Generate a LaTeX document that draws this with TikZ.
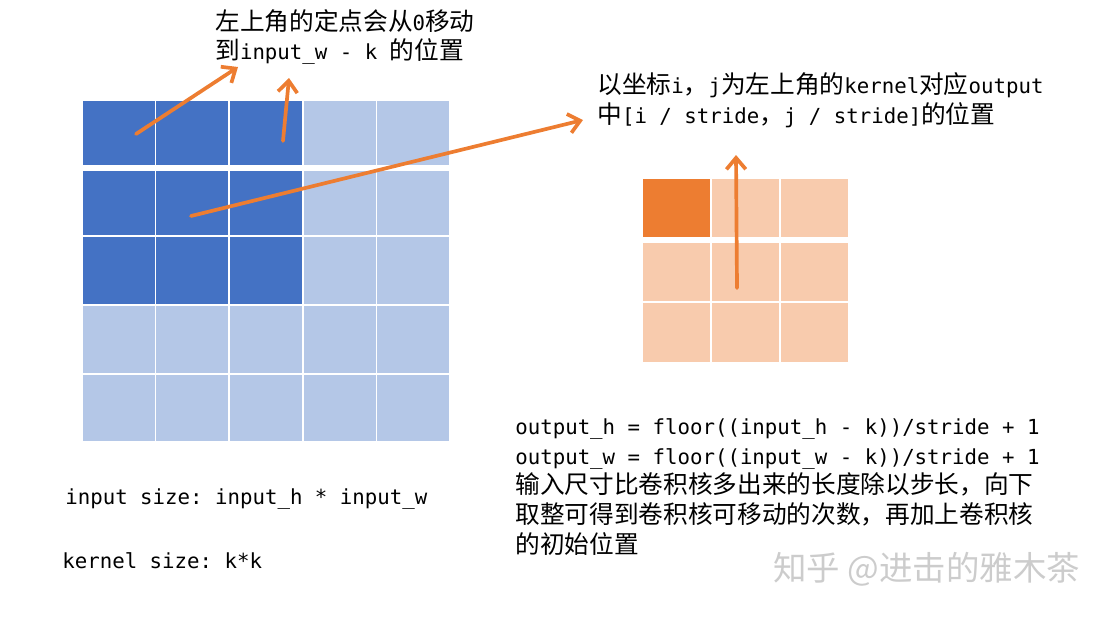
\documentclass[tikz,border=0pt]{standalone}
\usepackage{fontspec}
\setmainfont{DejaVu Sans Mono}
\newfontfamily\cjk[Scale=1.19]{Noto Sans CJK SC}
\usepackage{xcolor}
\definecolor{Kblue}{HTML}{4472C4}
\definecolor{Kbluelight}{HTML}{B4C7E7}
\definecolor{Korange}{HTML}{ED7D31}
\definecolor{Korangelight}{HTML}{F8CBAD}
\usetikzlibrary{arrows.meta}
\tikzset{
    cell/.style = {draw=white, line width=0.9pt},
    note/.style = {inner sep=0pt, anchor=west, align=left, font=\fontsize{11.8}{17}\selectfont\frenchspacing},
    arrow/.style = {Korange, line width=2.1pt, line cap=round,
        -{Straight Barb[length=6.5pt, width=11pt, line width=2.1pt]}}
}

\begin{document}
\begin{tikzpicture}[x=0.02cm, y=-0.02cm]
    \useasboundingbox (0,0) rectangle (1104,616);
    % Input feature map
    \foreach \top/\bot [count=\r] in {100/166, 170/236, 236/305, 305/374, 374/442} {
        \foreach \c in {1,...,5} {
            \pgfmathsetmacro{\xl}{82+(\c-1)*73.6}
            \pgfmathsetmacro{\xr}{82+\c*73.6}
            \ifnum\r<4 \ifnum\c<4
                \def\cellcolor{Kblue}
            \else
                \def\cellcolor{Kbluelight}
            \fi \else
                \def\cellcolor{Kbluelight}
            \fi
            \filldraw[cell, fill=\cellcolor] (\xl,\top) rectangle (\xr,\bot);
        }
    }
    % Output feature map
    \foreach \top/\bot [count=\r] in {178/238, 242/302, 302/363} {
        \foreach \c in {1,2,3} {
            \pgfmathsetmacro{\xl}{642+(\c-1)*69}
            \pgfmathsetmacro{\xr}{642+\c*69}
            \filldraw[cell, fill=Korangelight] (\xl,\top) rectangle (\xr,\bot);
        }
    }
    \filldraw[cell, fill=Korange] (642,178) rectangle (711,238);
    % Notes
    \node[note] (corner) at (215,37) {{\cjk 左上角的定点会从}0{\cjk 移动}\\{\cjk 到}input\_w - k {\cjk 的位置}};
    \node[note] (position) at (597,100) {{\cjk 以坐标}i{\cjk ，}j{\cjk 为左上角的}kernel{\cjk 对应}output\\{\cjk 中}[i / stride{\cjk ，}j / stride]{\cjk 的位置}};
    \node[note] (formula) at (515,487) {output\_h = floor((input\_h - k))/stride + 1\\output\_w = floor((input\_w - k))/stride + 1\\{\cjk 输入尺寸比卷积核多出来的长度除以步长，向下}\\{\cjk 取整可得到卷积核可移动的次数，再加上卷积核}\\{\cjk 的初始位置}};
    \node[note] (inputsize) at (65,499) {input size: input\_h * input\_w};
    \node[note] (kernelsize) at (62,561) {kernel size: k*k};
    \node[note, gray!40, font=\fontsize{16}{20}\selectfont] (mark) at (773,569) {{\cjk 知乎 @进击的雅木茶}};
    % Arrows
    \coordinate (cornerstart) at (136,134);
    \coordinate (cornerend) at (238,67);
    \coordinate (endstart) at (283,141);
    \coordinate (endend) at (289,78);
    \coordinate (kernelstart) at (191,216);
    \coordinate (kernelend) at (583,120);
    \coordinate (outstart) at (737,288);
    \coordinate (outend) at (736,155);
    \draw[arrow] (cornerstart) -- (cornerend);
    \draw[arrow] (endstart) -- (endend);
    \draw[arrow] (kernelstart) -- (kernelend);
    \draw[arrow] (outstart) -- (outend);
\end{tikzpicture}
\end{document}
